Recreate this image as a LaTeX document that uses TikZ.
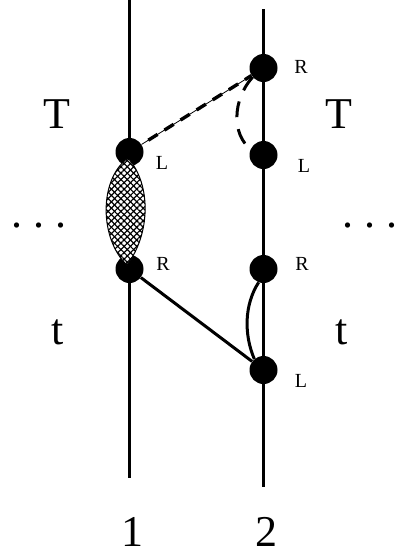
\documentclass[tikz,border=0pt]{standalone}
\usepackage{fontspec}
\setmainfont{Liberation Serif}
\usetikzlibrary{patterns.meta}
\newcommand{\dotrow}{\makebox[4pt]{.}\hspace{18pt}\makebox[4pt]{.}\hspace{18pt}\makebox[4pt]{.}}
\begin{document}
\begin{tikzpicture}[x=1pt,y=-1pt,
  world/.style={line width=3.5pt},
  dot/.style={circle,fill=black,inner sep=0pt,minimum size=28pt},
  lab/.style={font=\fontsize{20}{20}\selectfont,anchor=base,inner sep=0pt},
  big/.style={font=\fontsize{44}{44}\selectfont,anchor=base,inner sep=0pt},
  conn/.style={line width=3pt},
  dashconn/.style={line width=3.4pt,dash pattern=on 11pt off 8pt},
  thinconn/.style={line width=0.8pt}]
\useasboundingbox (0,0) rectangle (398,555);
% world lines
\coordinate (top1) at (129.5,0);
\coordinate (bot1) at (129.5,478);
\coordinate (top2) at (263.5,9);
\coordinate (bot2) at (263.5,487);
\draw[world] (top1) -- (bot1);
\draw[world] (top2) -- (bot2);
% dots
\node[dot] (L1) at (129.5,152) {};
\node[dot] (R1) at (129.5,269) {};
\node[dot] (R2) at (263.5,68) {};
\node[dot] (L2) at (263.5,155) {};
\node[dot] (R3) at (263.5,269) {};
\node[dot] (L3) at (263.5,370) {};
% lens
\fill[white] (128,158) .. controls (98,180) and (100,240) .. (127,265)
  .. controls (150,235) and (152,185) .. (128,158);
\path[pattern={Lines[angle=45,distance=4.5pt,line width=1.2pt]}]
  (128,158) .. controls (98,180) and (100,240) .. (127,265)
  .. controls (150,235) and (152,185) .. (128,158);
\path[pattern={Lines[angle=-45,distance=4.5pt,line width=1.2pt]}]
  (128,158) .. controls (98,180) and (100,240) .. (127,265)
  .. controls (150,235) and (152,185) .. (128,158);
\draw[line width=1pt] (128,158) .. controls (98,180) and (100,240) .. (127,265)
  .. controls (150,235) and (152,185) .. (128,158);
% connectors
\draw[thinconn] (L1) -- (R2);
\draw[dashconn,dash phase=-8pt] (L1) -- (R2);
\draw[conn,dash pattern=on 16pt off 12pt] (R2.220) .. controls (232,100) and (232,135) .. (L2.155);
\draw[conn] (R1) -- (L3);
\draw[conn] (R3.250) .. controls (244,305) and (244,335) .. (L3.130);
% labels
\node[lab] (lR2) at (301,73) {R};
\node[lab] (lL1) at (162,169) {L};
\node[lab] (lL2) at (304,172) {L};
\node[lab] (lR1) at (163,270) {R};
\node[lab] (lR3) at (302,270) {R};
\node[lab] (lL3) at (301,387) {L};
\node[big] (T1) at (57,128) {T};
\node[big] (T2) at (339,128) {T};
\node[big] (t1) at (58,344) {t};
\node[big] (t2) at (342,344) {t};
\node[big] (d1) at (39,227) {\dotrow};
\node[big] (d2) at (370,227) {\dotrow};
\node[big] (n1) at (132,546) {1};
\node[big] (n2) at (266,546) {2};
\end{tikzpicture}
\end{document}
